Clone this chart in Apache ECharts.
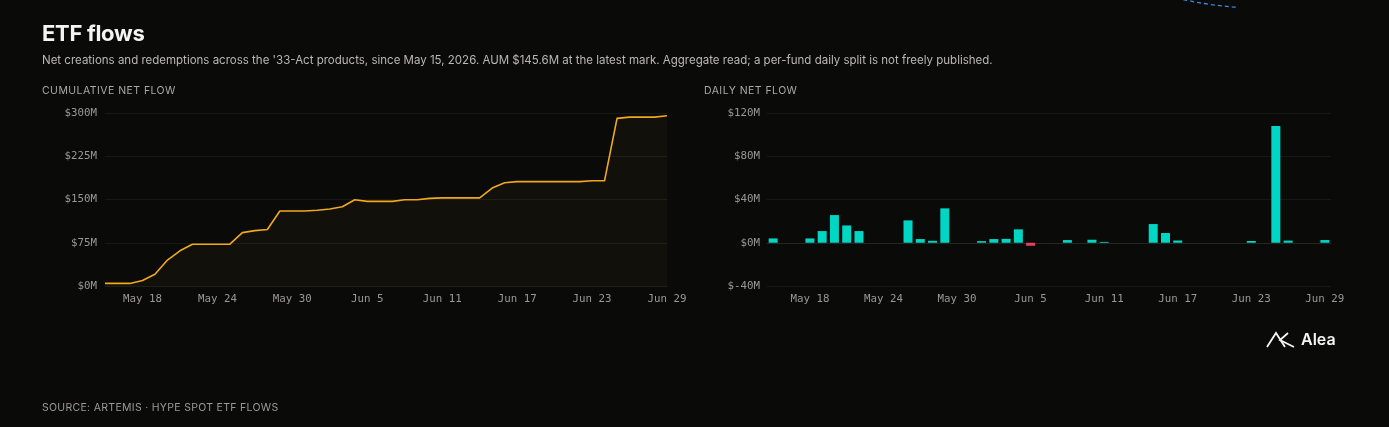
<!DOCTYPE html>
<html lang="en">
<head>
    <meta charset="UTF-8">
    <title>ETF flows</title>
    <style>
        html,body{
            margin:0;
            padding:0;
            background:#0a0a09;
            width:1389px;
            height:427px;
            overflow:hidden;
            font-family:Inter,"Noto Sans",sans-serif;
        }
        #main{
            position:absolute;
            left:0;
            top:0;
            width:1389px;
            height:427px;
        }
        .txt{position:absolute;white-space:nowrap;}
        #title{left:42px;top:20px;font-size:22px;font-weight:700;color:#f4f4f2;letter-spacing:-0.3px;}
        #sub{left:42px;top:53px;font-size:11.5px;color:#b9b8b4;}
        .sec{top:84px;font-size:10.5px;color:#a9a8a4;letter-spacing:0.45px;}
        #foot{left:42px;top:401px;font-size:10.5px;color:#9a9995;letter-spacing:0.3px;}
        #logo{left:1301px;top:329px;font-size:16px;font-weight:600;color:#f4f4f2;}
    </style>
    <script type="text/javascript" src="https://cdn.jsdelivr.net/npm/echarts@6/dist/echarts.min.js"></script>
</head>
<body>
<div id="main"></div>
<div class="txt" id="title">ETF flows</div>
<div class="txt" id="sub">Net creations and redemptions across the '33-Act products, since May 15, 2026. AUM $145.6M at the latest mark. Aggregate read; a per-fund daily split is not freely published.</div>
<div class="txt sec" style="left:42px">CUMULATIVE NET FLOW</div>
<div class="txt sec" style="left:704px">DAILY NET FLOW</div>
<div class="txt" id="foot">SOURCE: ARTEMIS · HYPE SPOT ETF FLOWS</div>
<div class="txt" id="logo">Alea</div>
</body>
<script>
    // days May 15 .. Jun 29
    let days=[
        'May 15','May 16','May 17','May 18','May 19','May 20','May 21','May 22','May 23','May 24',
        'May 25','May 26','May 27','May 28','May 29','May 30','May 31','Jun 1','Jun 2','Jun 3',
        'Jun 4','Jun 5','Jun 6','Jun 7','Jun 8','Jun 9','Jun 10','Jun 11','Jun 12','Jun 13',
        'Jun 14','Jun 15','Jun 16','Jun 17','Jun 18','Jun 19','Jun 20','Jun 21','Jun 22','Jun 23',
        'Jun 24','Jun 25','Jun 26','Jun 27','Jun 28','Jun 29'
    ];
    // cumulative net flow, $M
    let cumulative=[
        4.5,4.5,4.5,9.5,20.5,45,61,72.5,72.5,72.5,
        72.5,92.5,96,98,130,130,130,131.3,133.5,137.5,
        149.6,146.8,146.8,146.8,149.5,149.5,152,152.8,152.8,152.8,
        152.8,169.8,179,181,181,181,181,181,181,182.6,
        182.6,290.6,292.8,292.8,292.8,295.2
    ];
    // daily net flow, $M
    let daily=[
        4,0,0,4,10.8,25.6,16,10.8,0,0,
        0,20.7,3.4,1.8,31.8,0,0,1.5,3.4,3.6,
        12.4,-2.8,0,0,2.5,0,2.8,0.8,0,0,
        0,17.3,9,2.1,0,0,0,0,0,1.6,
        0,108,2,0,0,2.5
    ];
    let leftTicks=[0,75,150,225,300];
    let rightTicks=[-40,0,40,80,120];

    let chart=echarts.init(document.getElementById('main'));
    let mono='"DejaVu Sans Mono",monospace';
    let labelColor='#999894';
    let gridColor='#181816';
    let money=v=>'$'+v+'M';
    let every6=i=>(i-3)%6===0;

    let option={
        backgroundColor:'#0a0a09',
        animation:false,
        grid:[
            {left:105,right:722,top:113,bottom:141},
            {left:767,right:58,top:113,bottom:141}
        ],
        xAxis:[
            {
                type:'category',
                gridIndex:0,
                data:days,
                boundaryGap:false,
                axisLine:{show:true,lineStyle:{color:'#1e1e1b'}},
                axisTick:{show:false},
                axisLabel:{interval:every6,color:labelColor,fontFamily:mono,fontSize:10.8,margin:8}
            },
            {
                type:'category',
                gridIndex:1,
                data:days,
                axisLine:{show:true,onZero:true,lineStyle:{color:'#252522'}},
                axisTick:{show:false},
                axisLabel:{interval:every6,color:labelColor,fontFamily:mono,fontSize:10.8,margin:8}
            }
        ],
        yAxis:[
            {
                type:'value',
                gridIndex:0,
                min:leftTicks[0],
                max:leftTicks[leftTicks.length-1],
                interval:75,
                axisLabel:{formatter:money,color:labelColor,fontFamily:mono,fontSize:10.8,margin:8},
                splitLine:{lineStyle:{color:gridColor}}
            },
            {
                type:'value',
                gridIndex:1,
                min:rightTicks[0],
                max:rightTicks[rightTicks.length-1],
                interval:40,
                axisLabel:{formatter:money,color:labelColor,fontFamily:mono,fontSize:10.8,margin:7},
                splitLine:{lineStyle:{color:gridColor}}
            }
        ],
        series:[
            {
                type:'line',
                name:'Cumulative',
                xAxisIndex:0,
                yAxisIndex:0,
                data:cumulative,
                showSymbol:false,
                lineStyle:{color:'#f2a81d',width:1.6,join:'round'},
                areaStyle:{color:'rgba(240,170,40,0.055)'}
            },
            {
                type:'bar',
                name:'Daily',
                xAxisIndex:1,
                yAxisIndex:1,
                barWidth:9,
                data:daily.map(v=>({
                    value:v,
                    itemStyle:{color:v<0?'#e2405e':'#00d6c4'}
                }))
            }
        ],
        graphic:[
            {
                type:'arc',
                shape:{cx:1260,cy:-343,r:351,startAngle:1.64,endAngle:1.80},
                style:{fill:null,stroke:'#3f86d8',lineWidth:1.3,lineDash:[4,3]}
            },
            {
                type:'polyline',
                shape:{points:[[1267,347],[1276,333],[1285,347]]},
                style:{fill:null,stroke:'#f4f4f2',lineWidth:1.8}
            },
            {
                type:'polyline',
                shape:{points:[[1288,333],[1280,340],[1294,347]]},
                style:{fill:null,stroke:'#f4f4f2',lineWidth:1.8}
            }
        ]
    };
    chart.setOption(option);
</script>
</html>
